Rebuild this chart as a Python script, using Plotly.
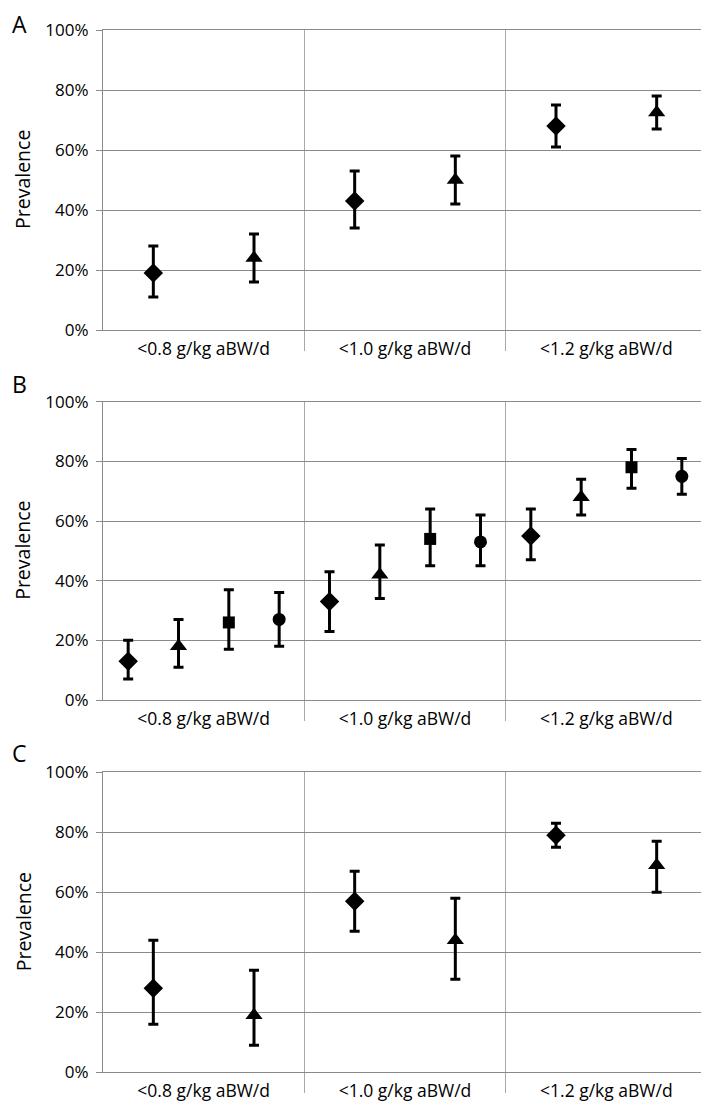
import plotly.graph_objects as go
from plotly.subplots import make_subplots

categories = ["<0.8 g/kg aBW/d", "<1.0 g/kg aBW/d", "<1.2 g/kg aBW/d"]
y_ticks = [0, 20, 40, 60, 80, 100]
y_tick_labels = ["0%", "20%", "40%", "60%", "80%", "100%"]
panel_labels = ["A", "B", "C"]

# Panel A (prevalence %, lower CI, upper CI)
a_diamond = [19, 43, 68]
a_diamond_lo = [11, 34, 61]
a_diamond_hi = [28, 53, 75]
a_triangle = [24, 50, 72.5]
a_triangle_lo = [16, 42, 67]
a_triangle_hi = [32, 58, 78]

# Panel B
b_diamond = [13, 33, 55]
b_diamond_lo = [7, 23, 47]
b_diamond_hi = [20, 43, 64]
b_triangle = [18, 42, 68]
b_triangle_lo = [11, 34, 62]
b_triangle_hi = [27, 52, 74]
b_square = [26, 54, 78]
b_square_lo = [17, 45, 71]
b_square_hi = [37, 64, 84]
b_circle = [27, 53, 75]
b_circle_lo = [18, 45, 69]
b_circle_hi = [36, 62, 81]

# Panel C
c_diamond = [28, 57, 79]
c_diamond_lo = [16, 47, 75]
c_diamond_hi = [44, 67, 83]
c_triangle = [19, 44, 69]
c_triangle_lo = [9, 31, 60]
c_triangle_hi = [34, 58, 77]

panels = [
    [("Series 1", "diamond", 15, a_diamond, a_diamond_lo, a_diamond_hi),
     ("Series 2", "triangle-up", 15, a_triangle, a_triangle_lo, a_triangle_hi)],
    [("Series 1", "diamond", 15, b_diamond, b_diamond_lo, b_diamond_hi),
     ("Series 2", "triangle-up", 15, b_triangle, b_triangle_lo, b_triangle_hi),
     ("Series 3", "square", 12, b_square, b_square_lo, b_square_hi),
     ("Series 4", "circle", 13, b_circle, b_circle_lo, b_circle_hi)],
    [("Series 1", "diamond", 15, c_diamond, c_diamond_lo, c_diamond_hi),
     ("Series 2", "triangle-up", 15, c_triangle, c_triangle_lo, c_triangle_hi)],
]

OFF = 8  # page body margin
W, H = 709 - OFF, 1103 - OFF
FONT = "Open Sans"
GRID = "#8a8a8a"
SEP = "#a8a8a8"

fig = make_subplots(rows=3, cols=1)

# pixel layout of each panel in the page (top, bottom)
panel_px = [(30, 330), (401.7, 700), (772.3, 1072.3)]
letter_y = [24, 384, 753]


def px_x(x):
    return (x - OFF) / W


def px_y(y):
    return 1 - (y - OFF) / H


for p, series in enumerate(panels):
    n = len(series)
    for j, (name, sym, size, vals, lo, hi) in enumerate(series):
        xs = [i + (j + 0.5) / n for i in range(len(categories))]
        fig.add_trace(go.Scatter(
            x=xs, y=vals, mode="markers", name=name, showlegend=False,
            marker=dict(symbol=sym, size=size, color="black"),
            error_y=dict(type="data", symmetric=False,
                         array=[h - v for h, v in zip(hi, vals)],
                         arrayminus=[v - l for v, l in zip(vals, lo)],
                         color="black", thickness=3, width=5),
        ), row=p + 1, col=1)

    top, bot = panel_px[p]
    xa = "xaxis" if p == 0 else f"xaxis{p+1}"
    ya = "yaxis" if p == 0 else f"yaxis{p+1}"
    fig.layout[xa].update(
        domain=[px_x(103), px_x(707)], range=[0, 3],
        tickmode="array", tickvals=[0.5, 1.5, 2.5], ticktext=categories,
        ticks="", showgrid=False, zeroline=False,
        showline=True, linecolor=GRID, linewidth=1.3, mirror=True,
        tickfont=dict(family=FONT, size=17.5, color="black"),
        ticklabelstandoff=3,
        minor=dict(tickmode="array", tickvals=[1, 2], ticks="outside",
                   ticklen=20, tickcolor=SEP, tickwidth=1.3,
                   showgrid=True, gridcolor=SEP, gridwidth=1.3),
        automargin=False, fixedrange=True,
    )
    fig.layout[ya].update(
        domain=[px_y(bot), px_y(top)], range=[0, 100],
        tickmode="array", tickvals=y_ticks, ticktext=y_tick_labels,
        ticks="outside", ticklen=6, tickcolor=GRID, tickwidth=1.3,
        showgrid=True, gridcolor=GRID, gridwidth=1.3, zeroline=False,
        showline=True, linecolor=GRID, linewidth=1.3,
        tickfont=dict(family=FONT, size=17, color="black"),
        ticklabelstandoff=4,
        automargin=False, fixedrange=True,
    )
    fig.add_annotation(text="Prevalence", textangle=-90, xref="paper", yref="paper",
                       x=px_x(23), y=px_y((top + bot) / 2), showarrow=False,
                       xanchor="center", yanchor="middle",
                       font=dict(family=FONT, size=19.5, color="black"))
    fig.add_annotation(text=panel_labels[p], xref="paper", yref="paper",
                       x=px_x(19), y=px_y(letter_y[p]), showarrow=False,
                       xanchor="center", yanchor="middle",
                       font=dict(family=FONT, size=23, color="black"))

fig.update_layout(
    width=W, height=H, margin=dict(l=0, r=0, t=0, b=0),
    paper_bgcolor="white", plot_bgcolor="white",
)

fig.write_html("out.html")
